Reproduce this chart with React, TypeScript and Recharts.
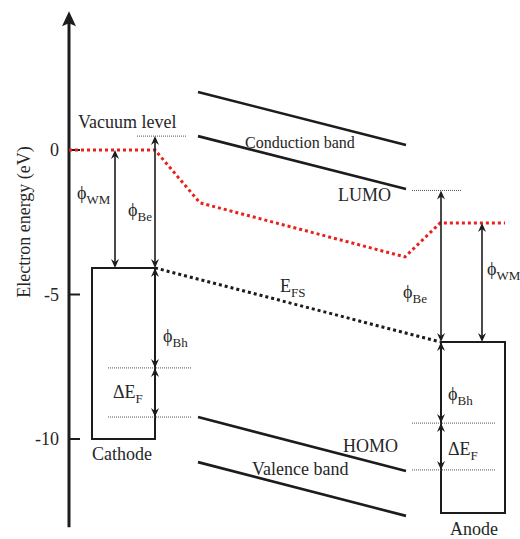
import React from 'react'
import {
  ComposedChart,
  Line,
  XAxis,
  YAxis,
  ReferenceLine,
  ReferenceArea,
  ReferenceDot,
} from 'recharts'

// energy axis ticks (eV)
const yTicks = [0, -5, -10]

// vacuum level (red dotted)
const vacuumX = [69, 155, 200, 405, 440, 505]
const vacuumE = [0, 0, -1.83, -3.7, -2.53, -2.53]

// Fermi level line E_FS (black dotted)
const fermiX = [155, 440]
const fermiE = [-4.08, -6.64]

// organic bands, start / end
const bandX = [198, 406]
const conductionE = [2.01, 0.17]
const lumoE = [0.48, -1.35]
const homoE = [-9.24, -11.11]
const valenceE = [-10.8, -12.66]

// electrodes
const cathode = { x: [92, 155], e: [-4.08, -10] }
const anode = { x: [441, 505], e: [-6.64, -12.56] }

// thin dotted reference levels
const levels = [
  { x: [137, 187], e: 0.48 },
  { x: [108, 192], e: -7.54 },
  { x: [108, 192], e: -9.24 },
  { x: [412, 462], e: -1.4 },
  { x: [412, 495], e: -9.45 },
  { x: [412, 495], e: -11.07 },
]

// double headed arrows
const arrows = [
  { x: 115, from: 0, to: -4.08 },
  { x: 155, from: 0.48, to: -4.08 },
  { x: 155, from: -4.08, to: -7.54 },
  { x: 155, from: -7.54, to: -9.24 },
  { x: 441, from: -1.4, to: -6.64 },
  { x: 482, from: -2.53, to: -6.64 },
  { x: 441, from: -6.64, to: -9.45 },
  { x: 441, from: -9.45, to: -11.07 },
]

// text labels
const labels = [
  { x: 78, e: 0.76, main: 'Vacuum level', sub: '', size: 18 },
  { x: 245, e: 0.07, main: 'Conduction band', sub: '', size: 16 },
  { x: 338, e: -1.76, main: 'LUMO', sub: '', size: 18 },
  { x: 280, e: -4.91, main: 'E', sub: 'FS', size: 18 },
  { x: 77, e: -1.7, main: 'ϕ', sub: 'WM', size: 18 },
  { x: 128, e: -2.28, main: 'ϕ', sub: 'Be', size: 18 },
  { x: 163, e: -6.64, main: 'ϕ', sub: 'Bh', size: 18 },
  { x: 113, e: -8.58, main: 'ΔE', sub: 'F', size: 18 },
  { x: 92, e: -10.74, main: 'Cathode', sub: '', size: 18 },
  { x: 403, e: -5.12, main: 'ϕ', sub: 'Be', size: 18 },
  { x: 487, e: -4.33, main: 'ϕ', sub: 'WM', size: 18 },
  { x: 448, e: -8.65, main: 'ϕ', sub: 'Bh', size: 18 },
  { x: 448, e: -10.55, main: 'ΔE', sub: 'F', size: 18 },
  { x: 450, e: -13.32, main: 'Anode', sub: '', size: 18 },
  { x: 343, e: -10.45, main: 'HOMO', sub: '', size: 18 },
  { x: 252, e: -11.25, main: 'Valence band', sub: '', size: 18 },
]

const axisTop = 4.8
const axisBottom = -13.05

const toPts = (xs: number[], es: number[]) => xs.map((x, i) => ({ x, e: es[i] }))

const FONT = '"Liberation Serif", "Times New Roman", Times, serif'
const INK = '#1c1c1c'
const TXT = '#262626'
const RED = '#e8211d'

const arrowHead = (x: number, y: number, dir: number, w = 4, l = 9) =>
  `M${x},${y} L${x - w},${y + dir * l} L${x},${y + dir * (l - 3)} L${x + w},${y + dir * l} Z`

function DoubleArrow(props: any) {
  const { x1, y1, x2, y2 } = props
  const top = Math.min(y1, y2)
  const bot = Math.max(y1, y2)
  return (
    <g>
      <line x1={x1} y1={top + 3} x2={x2} y2={bot - 3} stroke={INK} strokeWidth={1.6} />
      <path d={arrowHead(x1, top, 1)} fill={INK} />
      <path d={arrowHead(x1, bot, -1)} fill={INK} />
    </g>
  )
}

function AxisArrow(props: any) {
  const { x1, y1, x2, y2 } = props
  const top = Math.min(y1, y2)
  const bot = Math.max(y1, y2)
  return (
    <g>
      <line x1={x1} y1={top + 6} x2={x2} y2={bot} stroke={INK} strokeWidth={3} />
      <path d={arrowHead(x1, top, 1, 7, 15)} fill={INK} />
    </g>
  )
}

function TextMark(lab: any) {
  return (props: any) => (
    <text x={props.cx} y={props.cy} style={{ fontFamily: FONT, fontSize: lab.size }} fill={TXT}>
      <tspan>{lab.main}</tspan>
      {lab.sub ? (
        <tspan style={{ fontSize: 13 }} dy={5}>
          {lab.sub}
        </tspan>
      ) : null}
    </text>
  )
}

export default function App() {
  return (
    <div style={{ position: 'absolute', left: 0, top: 0, background: '#fff', fontFamily: FONT }}>
      <ComposedChart width={520} height={539} margin={{ top: 0, right: 0, bottom: 0, left: 0 }}>
        <XAxis type="number" dataKey="x" domain={[69, 520]} hide allowDataOverflow />
        <YAxis
          type="number"
          domain={[-13.46, 5.19]}
          ticks={yTicks}
          width={69}
          axisLine={false}
          tickLine={false}
          tickSize={0}
          tickMargin={10}
          allowDataOverflow
          tick={{ style: { fontFamily: FONT, fontSize: 18 }, fill: TXT }}
          label={{
            content: (p: any) => {
              const vb = p.viewBox || { x: 0, y: 0 }
              const cx = vb.x + 24
              const cy = vb.y + 222
              return (
                <text
                  x={cx}
                  y={cy}
                  transform={`rotate(-90 ${cx} ${cy})`}
                  textAnchor="middle"
                  dominantBaseline="central"
                  style={{ fontFamily: FONT, fontSize: 18 }}
                  fill={TXT}
                >
                  Electron energy (eV)
                </text>
              )
            },
          }}
        />

        {/* energy axis with arrow */}
        <ReferenceLine
          segment={[
            { x: 69, y: axisTop },
            { x: 69, y: axisBottom },
          ]}
          shape={AxisArrow}
        />
        {yTicks.map((t) => (
          <ReferenceLine
            key={'t' + t}
            segment={[
              { x: 69, y: t },
              { x: 80, y: t },
            ]}
            stroke={INK}
            strokeWidth={2}
          />
        ))}

        {/* electrodes */}
        <ReferenceArea
          x1={cathode.x[0]}
          x2={cathode.x[1]}
          y1={cathode.e[0]}
          y2={cathode.e[1]}
          fill="none"
          fillOpacity={0}
          stroke={INK}
          strokeWidth={2}
        />
        <ReferenceArea
          x1={anode.x[0]}
          x2={anode.x[1]}
          y1={anode.e[0]}
          y2={anode.e[1]}
          fill="none"
          fillOpacity={0}
          stroke={INK}
          strokeWidth={2}
        />

        {/* dotted reference levels */}
        {levels.map((l, i) => (
          <ReferenceLine
            key={'l' + i}
            segment={[
              { x: l.x[0], y: l.e },
              { x: l.x[1], y: l.e },
            ]}
            stroke="#555"
            strokeWidth={1}
            strokeDasharray="1 1"
          />
        ))}

        {/* bands */}
        <Line data={toPts(bandX, conductionE)} dataKey="e" type="linear" stroke={INK} strokeWidth={2.6} dot={false} isAnimationActive={false} />
        <Line data={toPts(bandX, lumoE)} dataKey="e" type="linear" stroke={INK} strokeWidth={2.6} dot={false} isAnimationActive={false} />
        <Line data={toPts(bandX, homoE)} dataKey="e" type="linear" stroke={INK} strokeWidth={2.6} dot={false} isAnimationActive={false} />
        <Line data={toPts(bandX, valenceE)} dataKey="e" type="linear" stroke={INK} strokeWidth={2.6} dot={false} isAnimationActive={false} />

        {/* vacuum level and Fermi level */}
        <Line data={toPts(vacuumX, vacuumE)} dataKey="e" type="linear" stroke={RED} strokeWidth={3} strokeDasharray="3 3" dot={false} isAnimationActive={false} />
        <Line data={toPts(fermiX, fermiE)} dataKey="e" type="linear" stroke={INK} strokeWidth={3} strokeDasharray="3 3" dot={false} isAnimationActive={false} />

        {/* arrows */}
        {arrows.map((a, i) => (
          <ReferenceLine
            key={'a' + i}
            segment={[
              { x: a.x, y: a.from },
              { x: a.x, y: a.to },
            ]}
            shape={DoubleArrow}
          />
        ))}

        {/* labels */}
        {labels.map((lab, i) => (
          <ReferenceDot key={'t' + i} x={lab.x} y={lab.e} r={0} shape={TextMark(lab)} />
        ))}
      </ComposedChart>
    </div>
  )
}
